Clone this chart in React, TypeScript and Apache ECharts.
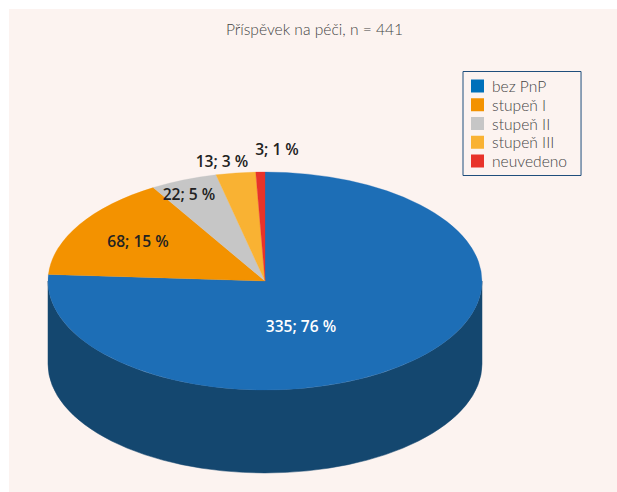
import React, { useEffect, useRef } from "react";
import * as echarts from "echarts";

const titleText = "Příspěvek na péči, n = 441";
const categories = ["bez PnP", "stupeň I", "stupeň II", "stupeň III", "neuvedeno"];
const counts = [335, 68, 22, 13, 3];
const percents = [76, 15, 5, 3, 1];
const colors = ["#1d6eb6", "#f39200", "#c6c6c6", "#f9b233", "#e8332a"];
const legendColors = ["#0070ba", "#f39200", "#c6c6c6", "#f9b233", "#e8332a"];
const wallColor = "#14476f";
// label anchor of each slice, in px
const labelPos = [[301, 325.5], [138, 241], [189, 194], [222, 160.5], [277, 149]];
const labelFill = ["#ffffff", "#222222", "#222222", "#222222", "#222222"];

const CX = 265, CY = 281, RX = 217, RY = 109, DEPTH = 83;

function pt(theta: number, dy = 0) {
  return [CX + RX * Math.sin(theta), CY - RY * Math.cos(theta) + dy];
}
function topPath(a0: number, a1: number) {
  const p0 = pt(a0), p1 = pt(a1);
  const large = a1 - a0 > Math.PI ? 1 : 0;
  return `M${CX} ${CY}L${p0[0]} ${p0[1]}A${RX} ${RY} 0 ${large} 1 ${p1[0]} ${p1[1]}Z`;
}
function wallPath(a0: number, a1: number) {
  // visible front of the cylinder: clockwise angles between 90° and 270°
  const s = Math.max(a0, Math.PI / 2), e = Math.min(a1, (3 * Math.PI) / 2);
  if (e <= s) return "";
  const p0 = pt(s), p1 = pt(e), q1 = pt(e, DEPTH), q0 = pt(s, DEPTH);
  return `M${p0[0]} ${p0[1]}A${RX} ${RY} 0 0 1 ${p1[0]} ${p1[1]}L${q1[0]} ${q1[1]}A${RX} ${RY} 0 0 0 ${q0[0]} ${q0[1]}Z`;
}

export default function App() {
  const ref = useRef<HTMLDivElement>(null);
  useEffect(() => {
    const chart = echarts.init(ref.current!, null, { renderer: "svg" });
    const total = counts.reduce((a, b) => a + b, 0);
    const starts: number[] = [];
    let acc = 0;
    counts.forEach((c) => {
      starts.push((acc / total) * Math.PI * 2);
      acc += c;
    });
    const font = '"Open Sans", sans-serif';
    const lightFont = 'Lato, sans-serif';
    const series: any[] = [];
    // walls are drawn first, below every slice
    counts.forEach((c, i) => {
      series.push({
        type: "custom",
        silent: true,
        coordinateSystem: "none",
        z: 2,
        data: [[c]],
        renderItem: (_p: any, api: any) => {
          const a0 = starts[i];
          const a1 = a0 + (api.value(0) / total) * Math.PI * 2;
          const d = wallPath(a0, a1);
          if (!d) return { type: "group", children: [] };
          return { type: "path", shape: { pathData: d }, style: { fill: wallColor, stroke: wallColor, lineWidth: 0.5 } };
        },
      });
    });
    counts.forEach((c, i) => {
      series.push({
        name: categories[i],
        type: "custom",
        silent: true,
        coordinateSystem: "none",
        z: 3,
        itemStyle: { color: legendColors[i] },
        data: [[c, percents[i]]],
        renderItem: (_p: any, api: any) => {
          const a0 = starts[i];
          const a1 = a0 + (api.value(0) / total) * Math.PI * 2;
          return {
            type: "path",
            shape: { pathData: topPath(a0, a1) },
            style: { fill: colors[i], stroke: colors[i], lineWidth: 0.3 },
          };
        },
      });
    });
    counts.forEach((c, i) => {
      series.push({
        type: "custom",
        silent: true,
        coordinateSystem: "none",
        z: 4,
        data: [[c, percents[i]]],
        renderItem: (_p: any, api: any) => ({
          type: "text",
          x: labelPos[i][0],
          y: labelPos[i][1],
          style: {
            text: `${api.value(0)}; ${api.value(1)} %`,
            fill: labelFill[i],
            font: `600 15.6px ${font}`,
            align: "center",
            verticalAlign: "middle",
          },
        }),
      });
    });
    chart.setOption({
      animation: false,
      backgroundColor: "#ffffff",
      title: {
        text: titleText,
        left: 314.5,
        top: 20,
        textAlign: "center",
        itemGap: 0,
        padding: 0,
        textStyle: { fontFamily: lightFont, fontSize: 15.6, fontWeight: 300, color: "#444444", lineHeight: 18 },
      },
      legend: {
        data: categories,
        orient: "vertical",
        left: 463,
        top: 71.5,
        padding: [6.5, 14, 6.5, 8],
        itemWidth: 13,
        itemHeight: 13,
        itemGap: 2.75,
        icon: "rect",
        borderColor: "#1f4e7c",
        borderWidth: 1,
        align: "left",
        selectedMode: false,
        textStyle: { fontFamily: lightFont, fontSize: 15.6, fontWeight: 300, color: "#444444", lineHeight: 13, padding: [0, 0, 0, 3] },
      },
      graphic: [
        { type: "rect", z: -10, silent: true, shape: { x: 9, y: 9, width: 608, height: 483 }, style: { fill: "#fcf3f0" } },
      ],
      series,
    });
    return () => chart.dispose();
  }, []);
  return <div ref={ref} style={{ position: "absolute", left: 0, top: 0, width: 617, height: 492 }} />;
}
